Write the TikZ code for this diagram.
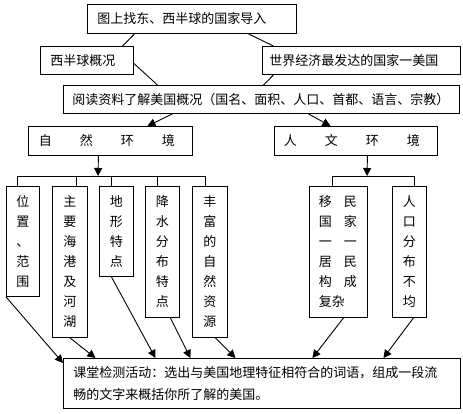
\documentclass[tikz,border=0pt]{standalone}
\usepackage{fontspec}
\newfontfamily\cjk{Noto Sans CJK SC}
\usetikzlibrary{arrows.meta}

\begin{document}
\begin{tikzpicture}[x=1pt, y=-1pt, line width=0.9pt,
  box/.style={draw, anchor=north west, inner ysep=2pt, align=left, font=\cjk\fontsize{13}{20}\selectfont},
  vbox/.style={draw, anchor=north west, inner sep=2pt, text width=13pt, align=center, font=\cjk\fontsize{13}{20}\selectfont},
  arr/.style={-{Triangle[length=8pt,width=8pt]}}]
\useasboundingbox (0,0) rectangle (463,413);

\node[box, inner xsep=10pt, text width=189pt, minimum height=29pt] (top) at (87,4) {图上找东、西半球的国家导入};
\node[box, inner xsep=10pt, text width=73pt, minimum height=28pt] (xbq) at (40,46) {西半球概况};
\node[box, inner xsep=7pt, text width=184pt, minimum height=28pt] (usa) at (262,46) {世界经济最发达的国家一美国};
\node[box, inner xsep=9pt, text width=378pt, minimum height=28pt] (read) at (63,85) {阅读资料了解美国概况（国名、面积、人口、首都、语言、宗教）};

\node[box, inner xsep=10.5pt, text width=143pt, minimum height=29pt] (nature) at (28,126) {自\hspace{28pt}然\hspace{28pt}环\hspace{28pt}境};
\node[box, inner xsep=9.5pt, text width=144pt, minimum height=29pt] (human) at (274,126) {人\hspace{28pt}文\hspace{28pt}环\hspace{28pt}境};

\node[vbox, minimum width=33pt, minimum height=110pt] (pos) at (6,186) {位\\置\\、\\范\\围};
\node[vbox, minimum width=35pt, minimum height=151pt] (port) at (52,186) {主\\要\\海\\港\\及\\河\\湖};
\node[vbox, minimum width=34pt, minimum height=90pt] (land) at (99,186) {地\\形\\特\\点};
\node[vbox, minimum width=34pt, minimum height=131pt] (rain) at (145,186) {降\\水\\分\\布\\特\\点};
\node[vbox, minimum width=35pt, minimum height=151pt] (res) at (192,186) {丰\\富\\的\\自\\然\\资\\源};
\node[box, inner xsep=9.5pt, text width=39pt, minimum height=131pt] (immi) at (309,186) {移\hspace{12pt}民\\国\hspace{12pt}家\\一\hspace{12pt}一\\居\hspace{12pt}民\\构\hspace{12pt}成\\复杂};
\node[vbox, minimum width=34pt, minimum height=131pt] (popu) at (392,186) {人\\口\\分\\布\\不\\均};

\node[box, inner xsep=10pt, text width=377pt, minimum height=50pt, font=\cjk\fontsize{13}{22}\selectfont] (test) at (63,358) {课堂检测活动：选出与美国地理特征相符合的词语，组成一段流\\畅的文字来概括你所了解的美国。};

\draw ([xshift=-57.5pt]top.south) -- ([xshift=35.5pt]xbq.north);
\draw ([xshift=56.5pt]top.south) -- ([xshift=-88pt]usa.north);
\draw ([yshift=-3pt]xbq.east) -- ([xshift=-104pt]read.north);
\draw ([xshift=-88pt]usa.south) -- ([xshift=2pt]read.north);
\draw[arr] ([xshift=-89pt]read.south) -- ([xshift=37pt]nature.north);
\draw[arr] ([xshift=47pt]read.south) -- ([xshift=-25.5pt]human.north);

\coordinate (nbus) at (98,176);
\draw[arr] ([xshift=-12pt]nature.south) -- (nbus);
\draw ([xshift=-5.5pt]pos.north) -- ([xshift=-5.5pt]pos.north |- nbus) -- ([xshift=-4.5pt]res.north |- nbus) -- ([xshift=-4.5pt]res.north);
\draw ([xshift=6.5pt]port.north) -- ([xshift=6.5pt]port.north |- nbus);
\draw ([xshift=-5pt]land.north) -- ([xshift=-5pt]land.north |- nbus);
\draw ([xshift=-5pt]rain.north) -- ([xshift=-5pt]rain.north |- nbus);

\coordinate (hbus) at (367,176);
\draw[arr] ([xshift=11.5pt]human.south) -- (hbus);
\draw ([xshift=-6pt]immi.north) -- ([xshift=-6pt]immi.north |- hbus) -- ([xshift=5pt]popu.north |- hbus) -- ([xshift=5pt]popu.north);

\draw[arr] (pos.south west) -- ([yshift=-5pt]test.north west);
\draw[arr] (port.south) -- ([xshift=-166.5pt]test.north);
\draw[arr] ([xshift=-5pt]land.south) -- ([xshift=-106.5pt]test.north);
\draw[arr] ([xshift=8pt]rain.south) -- ([xshift=-71.5pt]test.north);
\draw[arr] ([xshift=5.5pt]res.south) -- ([xshift=-26.5pt]test.north);
\draw[arr] ([xshift=5pt]immi.south) -- ([xshift=50.5pt]test.north);
\draw[arr] ([xshift=4pt]popu.south) -- ([xshift=121.5pt]test.north);
\end{tikzpicture}
\end{document}
